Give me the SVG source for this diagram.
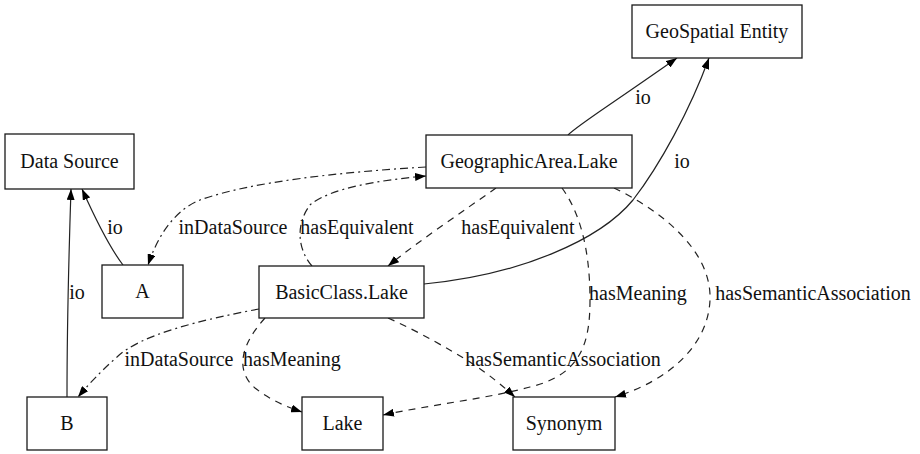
<svg xmlns="http://www.w3.org/2000/svg" width="920" height="454" viewBox="0 0 920 454">
  <style>
    .node rect { fill: #fff; stroke: #1a1a1a; stroke-width: 1.3; }
    .node text, .lbl { font-family: "Liberation Serif", "Times New Roman", serif; font-size: 20px; fill: #111; text-anchor: middle; }
    .edge { fill: none; stroke: #222; stroke-width: 1.2; marker-end: url(#arrow); }
    .dash { stroke-dasharray: 7 6; }
    .dashdot { stroke-dasharray: 8 4 2 4; }
  </style>
  <defs>
    <marker id="arrow" markerUnits="userSpaceOnUse" markerWidth="12" markerHeight="8" refX="11" refY="4" orient="auto">
      <path d="M0,0 L11,4 L0,8 z" fill="#000"/>
    </marker>
  </defs>
  <rect width="920" height="454" fill="#fff"/>

  <!-- edges -->
  <g id="edges">
    <path class="edge" d="M568,135 C578,125 600,112 677,58"/>
    <path class="edge" d="M424,284 C520,275 600,240 633,200 C660,165 690,110 709,58"/>
    <path class="edge" d="M123,265 C110,248 95,218 82,189"/>
    <path class="edge" d="M67,397 C67,330 69,250 71,189"/>
    <path class="edge dashdot" d="M426,167 C340,172 250,182 200,200 C175,210 158,235 148,265"/>
    <path class="edge dashdot" d="M312,266 C298,250 295,225 310,205 C330,188 380,180 426,176"/>
    <path class="edge dash" d="M496,188 C465,210 420,240 388,266"/>
    <path class="edge dash" d="M562,188 C578,210 590,245 590,300 C590,345 580,375 530,387 C490,398 430,405 383,415"/>
    <path class="edge dash" d="M614,188 C660,210 712,250 710,300 C708,345 670,380 615,397"/>
    <path class="edge dashdot" d="M259,309 C200,320 140,335 117,357 C100,372 88,385 78,397"/>
    <path class="edge dash" d="M265,318 C245,340 232,368 255,388 C270,400 287,407 302,412"/>
    <path class="edge dash" d="M388,318 C420,332 450,350 470,362 C490,375 505,388 515,397"/>

    <text class="lbl" x="643" y="104">io</text>
    <text class="lbl" x="682" y="168">io</text>
    <text class="lbl" x="115" y="234">io</text>
    <text class="lbl" x="77" y="299">io</text>
    <text class="lbl" x="233" y="234">inDataSource</text>
    <text class="lbl" x="357" y="234">hasEquivalent</text>
    <text class="lbl" x="518" y="234">hasEquivalent</text>
    <text class="lbl" x="638" y="300">hasMeaning</text>
    <text class="lbl" x="813" y="300">hasSemanticAssociation</text>
    <text class="lbl" x="179" y="366">inDataSource</text>
    <text class="lbl" x="292" y="366">hasMeaning</text>
    <text class="lbl" x="563" y="366">hasSemanticAssociation</text>
  </g>

  <!-- nodes -->
  <g id="geospatial-entity" class="node">
    <rect x="632" y="5" width="170" height="53"/>
    <text x="717" y="38">GeoSpatial Entity</text>
  </g>
  <g id="geographicarea-lake" class="node">
    <rect x="426" y="135" width="206" height="53"/>
    <text x="529" y="168">GeographicArea.Lake</text>
  </g>
  <g id="data-source" class="node">
    <rect x="5" y="134" width="129" height="55"/>
    <text x="69.5" y="168">Data Source</text>
  </g>
  <g id="a" class="node">
    <rect x="102" y="265" width="81" height="53"/>
    <text x="142.5" y="298">A</text>
  </g>
  <g id="basicclass-lake" class="node">
    <rect x="259" y="266" width="165" height="52"/>
    <text x="341.5" y="299">BasicClass.Lake</text>
  </g>
  <g id="b" class="node">
    <rect x="27" y="397" width="80" height="53"/>
    <text x="67" y="430">B</text>
  </g>
  <g id="lake" class="node">
    <rect x="302" y="397" width="81" height="53"/>
    <text x="342.5" y="430">Lake</text>
  </g>
  <g id="synonym" class="node">
    <rect x="513" y="397" width="102" height="53"/>
    <text x="564" y="430">Synonym</text>
  </g>
</svg>
